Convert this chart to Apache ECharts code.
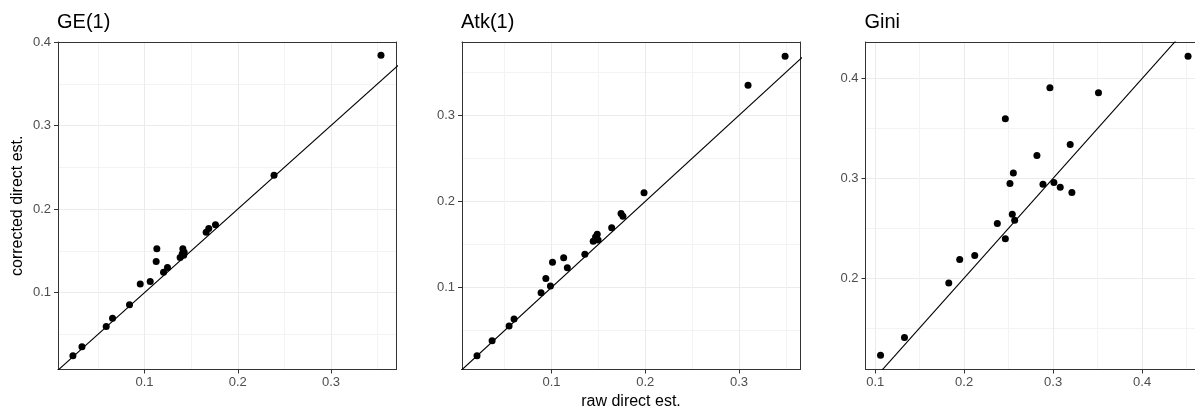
<!DOCTYPE html>
<html>
<head>
<meta charset="UTF-8">
<title></title>
<script src="https://cdn.jsdelivr.net/npm/echarts@6/dist/echarts.min.js"></script>
<style>
  html, body { margin: 0; background: #fff; }
  #chart { width: 1195px; height: 408px; }
</style>
</head>
<body>
<div id="chart"></div>
<script>
var panelTitles = ['GE(1)', 'Atk(1)', 'Gini'];

// raw direct est. (x) and corrected direct est. (y)
var geRaw   = [0.0232, 0.0329, 0.0589, 0.0657, 0.0839, 0.0954, 0.1061, 0.1125, 0.1132, 0.1204, 0.1246, 0.1382, 0.1405, 0.1411, 0.1420, 0.1425, 0.1661, 0.1689, 0.1761, 0.2389, 0.3536];
var geCorr  = [0.0244, 0.0352, 0.0596, 0.0692, 0.0856, 0.1104, 0.1132, 0.1372, 0.1524, 0.1244, 0.1300, 0.1420, 0.1465, 0.1524, 0.1448, 0.1484, 0.1724, 0.1768, 0.1812, 0.2404, 0.3840];
var atkRaw  = [0.0206, 0.0367, 0.0548, 0.0601, 0.0889, 0.0940, 0.0989, 0.1011, 0.1130, 0.1169, 0.1356, 0.1445, 0.1470, 0.1488, 0.1497, 0.1642, 0.1742, 0.1762, 0.1987, 0.3096, 0.3491];
var atkCorr = [0.0209, 0.0381, 0.0553, 0.0634, 0.0938, 0.1104, 0.1017, 0.1294, 0.1344, 0.1228, 0.1385, 0.1536, 0.1587, 0.1617, 0.1550, 0.1694, 0.1858, 0.1828, 0.2100, 0.3348, 0.3685];
var giniRaw = [0.1060, 0.1329, 0.1827, 0.1950, 0.2119, 0.2373, 0.2463, 0.2463, 0.2515, 0.2541, 0.2553, 0.2568, 0.2818, 0.2886, 0.2964, 0.3009, 0.3080, 0.3192, 0.3211, 0.3510, 0.4517];
var giniCorr= [0.1227, 0.1403, 0.1950, 0.2187, 0.2227, 0.2547, 0.2393, 0.3597, 0.2947, 0.2640, 0.3053, 0.2580, 0.3230, 0.2940, 0.3907, 0.2957, 0.2910, 0.3340, 0.2857, 0.3857, 0.4223];

// tick labels (major) and minor grid lines
var geXTicks   = [0.1, 0.2, 0.3];
var geYTicks   = [0.1, 0.2, 0.3, 0.4];
var atkXTicks  = [0.1, 0.2, 0.3];
var atkYTicks  = [0.1, 0.2, 0.3];
var giniXTicks = [0.1, 0.2, 0.3, 0.4];
var giniYTicks = [0.2, 0.3, 0.4];
var geXMinor   = [0.05, 0.15, 0.25, 0.35];
var geYMinor   = [0.05, 0.15, 0.25, 0.35];
var atkXMinor  = [0.05, 0.15, 0.25, 0.35];
var atkYMinor  = [0.05, 0.15, 0.25, 0.35];
var giniXMinor = [0.15, 0.25, 0.35, 0.45];
var giniYMinor = [0.15, 0.25, 0.35];

// y = x reference line
var identity = [0, 0.5];

// the Gini panel is cut off by the right edge of the picture
var panels = [
  { x: geRaw, y: geCorr, xt: geXTicks, yt: geYTicks, xm: geXMinor, ym: geYMinor,
    xlim: [0.0072, 0.3697], ylim: [0.008, 0.400], left: 58, width: 338, rightBorder: true },
  { x: atkRaw, y: atkCorr, xt: atkXTicks, yt: atkYTicks, xm: atkXMinor, ym: atkYMinor,
    xlim: [0.0046, 0.365], ylim: [0.0048, 0.385], left: 462, width: 338, rightBorder: true },
  { x: giniRaw, y: giniCorr, xt: giniXTicks, yt: giniYTicks, xm: giniXMinor, ym: giniYMinor,
    xlim: [0.0891, 0.4595], ylim: [0.1083, 0.4367], left: 865.5, width: 329.5, rightBorder: false }
];

var font = 'Liberation Sans, Arial, Helvetica, sans-serif';
var chart = echarts.init(document.getElementById('chart'));

var titles = [], grids = [], xAxes = [], yAxes = [], series = [];

function border(show) {
  return { show: show, onZero: false, lineStyle: { color: '#333', width: 1 } };
}

panels.forEach(function (p, i) {
  titles.push({
    text: panelTitles[i], left: p.left - 1, top: 12, padding: 0,
    textStyle: { fontFamily: font, fontSize: 20, fontWeight: 'normal', color: '#000' }
  });
  grids.push({
    left: p.left, top: 42, width: p.width, height: 327.5,
    outerBoundsMode: 'none', containLabel: false, show: false
  });
  // major axes (bottom / left)
  xAxes.push({
    type: 'value', gridIndex: i, position: 'bottom', min: p.xlim[0], max: p.xlim[1],
    name: i === 1 ? 'raw direct est.' : '', nameLocation: 'middle', nameGap: 24,
    nameTextStyle: { fontFamily: font, fontSize: 16, color: '#000' },
    axisLine: border(true),
    axisTick: { show: true, length: 4, customValues: p.xt, lineStyle: { color: '#333' } },
    axisLabel: { customValues: p.xt, margin: 6, fontFamily: font, fontSize: 13, color: '#4d4d4d',
      formatter: function (v) { return v.toFixed(1); } },
    splitLine: { show: true, lineStyle: { color: '#ebebeb', width: 1 } }
  });
  yAxes.push({
    type: 'value', gridIndex: i, position: 'left', min: p.ylim[0], max: p.ylim[1],
    name: i === 0 ? 'corrected direct est.' : '', nameLocation: 'middle', nameGap: 32,
    nameTextStyle: { fontFamily: font, fontSize: 16, color: '#000' },
    axisLine: border(true),
    axisTick: { show: true, length: 4, customValues: p.yt, lineStyle: { color: '#333' } },
    axisLabel: { customValues: p.yt, margin: 7, fontFamily: font, fontSize: 13, color: '#4d4d4d',
      formatter: function (v) { return v.toFixed(1); } },
    splitLine: { show: true, lineStyle: { color: '#ebebeb', width: 1 } }
  });
  // minor grid axes (top / right), also close the panel border
  xAxes.push({
    type: 'value', gridIndex: i, position: 'top', min: p.xlim[0], max: p.xlim[1],
    axisLine: border(true), axisLabel: { show: false },
    axisTick: { show: false, customValues: p.xm },
    splitLine: { show: true, lineStyle: { color: '#f3f3f3', width: 1 } }
  });
  yAxes.push({
    type: 'value', gridIndex: i, position: 'right', min: p.ylim[0], max: p.ylim[1],
    axisLine: border(p.rightBorder), axisLabel: { show: false },
    axisTick: { show: false, customValues: p.ym },
    splitLine: { show: true, lineStyle: { color: '#f3f3f3', width: 1 } }
  });

  series.push({
    type: 'line', xAxisIndex: 2 * i, yAxisIndex: 2 * i,
    data: identity.map(function (v) { return [v, v]; }),
    symbol: 'none', clip: true, silent: true,
    lineStyle: { color: '#000', width: 1.1 }, z: 3
  });
  series.push({
    type: 'scatter', xAxisIndex: 2 * i, yAxisIndex: 2 * i,
    data: p.x.map(function (v, k) { return [v, p.y[k]]; }),
    symbolSize: 7, itemStyle: { color: '#000', opacity: 1 }, z: 4
  });
});

chart.setOption({
  backgroundColor: '#fff',
  animation: false,
  title: titles,
  grid: grids,
  xAxis: xAxes,
  yAxis: yAxes,
  series: series
});
</script>
</body>
</html>
